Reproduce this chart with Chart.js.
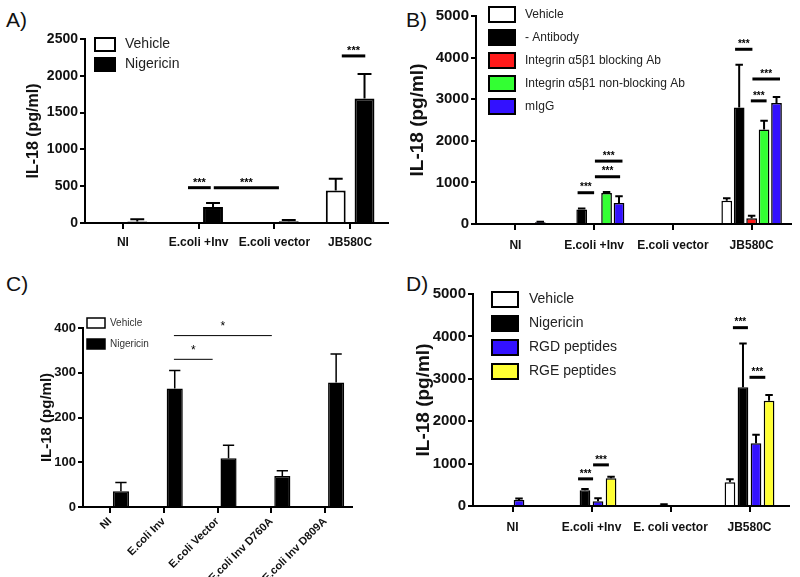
<!DOCTYPE html>
<html>
<head>
<meta charset="utf-8">
<script src="https://cdn.jsdelivr.net/npm/chart.js@4.4.0/dist/chart.umd.min.js"></script>
<style>
  body { margin: 0; background: #fff; width: 800px; height: 577px; position: relative; overflow: hidden; font-family: 'Liberation Sans', Arial, sans-serif; }
  .panel { position: absolute; }
  .tag { position: absolute; font-size: 21px; color: #111; line-height: 1; }
</style>
</head>
<body>
<div class="tag" style="left:6px;top:9px">A)</div>
<div class="tag" style="left:406px;top:9px">B)</div>
<div class="tag" style="left:6px;top:273px">C)</div>
<div class="tag" style="left:406px;top:273px">D)</div>

<div class="panel" style="left:0;top:0;width:400px;height:290px"><canvas id="chA"></canvas></div>
<div class="panel" style="left:400px;top:0;width:400px;height:290px"><canvas id="chB"></canvas></div>
<div class="panel" style="left:0;top:290px;width:400px;height:287px"><canvas id="chC"></canvas></div>
<div class="panel" style="left:400px;top:280px;width:400px;height:297px"><canvas id="chD"></canvas></div>

<script>
// --- données ---
const catsABD = ['NI', 'E.coli +Inv', 'E.coli vector', 'JB580C'];
const catsD   = ['NI', 'E.coli +Inv', 'E. coli vector', 'JB580C'];
const catsC   = ['NI', 'E.coli Inv', 'E.coli Vector', 'E.coli Inv D760A', 'E.coli Inv D809A'];

// A
const vehicleA    = [0, 0, 0, 440];
const vehicleErrA = [0, 0, 0, 600];
const nigA        = [20, 217, 25, 1690];
const nigErrA     = [50, 272, 40, 2025];
const sigA        = [[0.86, 1.16, 480, '***'], [1.2, 2.06, 480, '***'], [2.89, 3.2, 2270, '***']];

// B
const vehicleB     = [0, 0, 0, 560];
const vehicleErrB  = [0, 0, 0, 620];
const noAbB        = [0, 350, 0, 2800];
const noAbErrB     = [0, 370, 0, 3830];
const blockB       = [0, 0, 0, 140];
const blockErrB    = [0, 0, 0, 200];
const nonBlockB    = [0, 745, 0, 2270];
const nonBlockErrB = [0, 770, 0, 2480];
const migB         = [40, 505, 0, 2910];
const migErrB      = [55, 670, 0, 3050];
const sigB = [[0.79, 1.0, 752, '***'], [1.01, 1.33, 1136, '***'], [1.01, 1.36, 1512, '***'],
              [2.79, 3.01, 4200, '***'], [2.99, 3.19, 2960, '***'], [3.01, 3.36, 3486, '***']];

// C
const vehicleC    = [0, 0, 0, 0, 0];
const vehicleErrC = [0, 0, 0, 0, 0];
const nigC        = [35, 265, 109, 69, 278];
const nigErrC     = [55, 305, 138, 81, 342];
const sigC        = [[1.19, 1.91, 330, '*'], [1.19, 3.01, 383, '*']];

// D
const vehicleD = [0, 0, 0, 560];
const vehicleErrD = [0, 0, 0, 630];
const nigD     = [0, 370, 30, 2800];
const nigErrD  = [0, 400, 40, 3830];
const rgdD     = [140, 110, 0, 1480];
const rgdErrD  = [175, 180, 0, 1680];
const rgeD     = [0, 655, 0, 2480];
const rgeErrD  = [0, 690, 0, 2620];
const sigD = [[0.83, 1.02, 640, '***'], [1.02, 1.22, 970, '***'], [2.79, 2.98, 4206, '***'], [3.0, 3.2, 3035, '***']];

const FONT = "'Liberation Sans', Arial, sans-serif";

// ── plugins ─────────────────────────────────────────────
const errorBars = {
  id: 'errorBars',
  afterDatasetsDraw(chart, args, o) {
    const ctx = chart.ctx, ys = chart.scales.y;
    ctx.save();
    ctx.strokeStyle = '#000';
    ctx.lineWidth = o.lw;
    chart.data.datasets.forEach((ds, i) => {
      chart.getDatasetMeta(i).data.forEach((bar, j) => {
        const e = ds.errors[j];
        if (!e || e <= ds.data[j]) return;
        const top = ys.getPixelForValue(e);
        const cap = bar.width * o.cap / 2;
        ctx.beginPath();
        ctx.moveTo(bar.x, bar.y);
        ctx.lineTo(bar.x, top);
        ctx.moveTo(bar.x - cap, top);
        ctx.lineTo(bar.x + cap, top);
        ctx.stroke();
      });
    });
    ctx.restore();
  }
};

const sigBars = {
  id: 'sigBars',
  afterDatasetsDraw(chart, args, o) {
    const { ctx, scales: { x, y } } = chart;
    ctx.save();
    ctx.strokeStyle = '#000';
    ctx.fillStyle = '#000';
    ctx.lineWidth = o.lw;
    ctx.font = o.font;
    ctx.textAlign = 'center';
    ctx.textBaseline = 'middle';
    o.marks.forEach(([a, b, v, t]) => {
      const xa = x.getPixelForValue(a), xb = x.getPixelForValue(b), py = y.getPixelForValue(v);
      ctx.beginPath();
      ctx.moveTo(xa, py);
      ctx.lineTo(xb, py);
      ctx.stroke();
      ctx.fillText(t, (xa + xb) / 2, py - o.gap);
    });
    ctx.restore();
  }
};

const boxLegend = {
  id: 'boxLegend',
  afterDraw(chart, args, o) {
    const ctx = chart.ctx;
    ctx.save();
    ctx.font = o.font;
    ctx.textBaseline = 'middle';
    chart.data.datasets.forEach((ds, i) => {
      const y = o.y + i * o.pitch;
      ctx.fillStyle = ds.backgroundColor;
      ctx.fillRect(o.x, y, o.w, o.h);
      ctx.lineWidth = o.lw;
      ctx.strokeStyle = '#000';
      ctx.strokeRect(o.x, y, o.w, o.h);
      ctx.fillStyle = o.color;
      ctx.fillText(ds.label, o.textX, y + o.h / 2);
    });
    ctx.restore();
  }
};

// ── construction d'un panneau ───────────────────────────
function panel(id, o) {
  const axisGrid = { display: true, drawOnChartArea: false, drawTicks: true, tickLength: 5, color: '#000', lineWidth: 2 };
  return new Chart(document.getElementById(id), {
    type: 'bar',
    data: {
      labels: o.labels,
      datasets: o.series.map(s => ({
        label: s.name,
        data: s.data,
        errors: s.err,
        backgroundColor: s.color,
        borderColor: '#000',
        borderWidth: o.border,
        categoryPercentage: o.cat,
        barPercentage: o.bar,
      })),
    },
    options: {
      animation: false,
      responsive: true,
      maintainAspectRatio: false,
      layout: { padding: { left: o.padL, top: o.padT, right: o.padR, bottom: 0 } },
      plugins: {
        legend: { display: false },
        tooltip: { enabled: false },
        errorBars: { lw: o.errLw, cap: 0.7 },
        sigBars: { marks: o.sig, lw: o.sigLw, font: o.sigFont, gap: o.sigGap },
        boxLegend: o.legend,
      },
      scales: {
        x: {
          offset: true,
          grid: { ...axisGrid, offset: false, tickLength: 6 },
          border: { display: true, color: '#000', width: 2 },
          ticks: {
            color: '#111', padding: o.xPad, autoSkip: false,
            minRotation: o.rot, maxRotation: o.rot,
            font: { family: FONT, size: o.xFont, weight: 'bold' },
          },
          afterFit: s => { s.height = o.xh; },
        },
        y: {
          min: 0, max: o.max,
          grid: axisGrid,
          border: { display: true, color: '#000', width: 2 },
          ticks: {
            stepSize: o.step, color: '#111', padding: 2,
            callback: v => String(v),
            font: { family: FONT, size: o.yFont, weight: 'bold' },
          },
          title: { display: true, text: 'IL-18 (pg/ml)', color: '#111', padding: { top: 4, bottom: 4 }, font: { family: FONT, size: o.titleFont, weight: 'bold' } },
          afterFit: s => { s.width = o.yw; },
        },
      },
    },
    plugins: [errorBars, sigBars, boxLegend],
  });
}

panel('chA', {
  labels: catsABD,
  series: [
    { name: 'Vehicle',   data: vehicleA, err: vehicleErrA, color: '#ffffff' },
    { name: 'Nigericin', data: nigA,     err: nigErrA,     color: '#000000' },
  ],
  cat: 0.76, bar: 0.69, border: 2,
  padL: 20, yw: 65, padT: 39, padR: 12, xh: 67,
  max: 2500, step: 500, yFont: 14, xFont: 12, titleFont: 16, xPad: 6, rot: 0,
  errLw: 2, sig: sigA, sigLw: 3, sigFont: `bold 11px ${FONT}`, sigGap: 5,
  legend: { x: 95, y: 38, w: 20, h: 13, pitch: 20, lw: 2, textX: 125, font: `14px ${FONT}`, color: '#222' },
});

panel('chB', {
  labels: catsABD,
  series: [
    { name: 'Vehicle',                        data: vehicleB,  err: vehicleErrB,  color: '#ffffff' },
    { name: '- Antibody',                     data: noAbB,     err: noAbErrB,     color: '#000000' },
    { name: 'Integrin \u03b15\u03b21 blocking Ab',     data: blockB,    err: blockErrB,    color: '#ff1a1a' },
    { name: 'Integrin \u03b15\u03b21 non-blocking Ab', data: nonBlockB, err: nonBlockErrB, color: '#33ff33' },
    { name: 'mIgG',                           data: migB,      err: migErrB,      color: '#3311ff' },
  ],
  cat: 0.79, bar: 0.86, border: 1.5,
  padL: 2, yw: 74, padT: 16, padR: 9, xh: 66,
  max: 5000, step: 1000, yFont: 15, xFont: 12, titleFont: 19, xPad: 8, rot: 0,
  errLw: 2, sig: sigB, sigLw: 3, sigFont: `bold 10px ${FONT}`, sigGap: 5,
  legend: { x: 89, y: 7, w: 26, h: 15, pitch: 23, lw: 2, textX: 125, font: `12px ${FONT}`, color: '#222' },
});

panel('chC', {
  labels: catsC,
  series: [
    { name: 'Vehicle',   data: vehicleC, err: vehicleErrC, color: '#ffffff' },
    { name: 'Nigericin', data: nigC,     err: nigErrC,     color: '#000000' },
  ],
  cat: 0.82, bar: 0.73, border: 1.5,
  padL: 34, yw: 49, padT: 38, padR: 48, xh: 70,
  max: 400, step: 100, yFont: 13, xFont: 11, titleFont: 15, xPad: 2, rot: 45,
  errLw: 1.5, sig: sigC, sigLw: 1, sigFont: `12px ${FONT}`, sigGap: 9,
  legend: { x: 87, y: 28, w: 18, h: 10, pitch: 21, lw: 1.5, textX: 110, font: `10px ${FONT}`, color: '#333' },
});

panel('chD', {
  labels: catsD,
  series: [
    { name: 'Vehicle',      data: vehicleD, err: vehicleErrD, color: '#ffffff' },
    { name: 'Nigericin',    data: nigD,     err: nigErrD,     color: '#000000' },
    { name: 'RGD peptides', data: rgdD,     err: rgdErrD,     color: '#3311ff' },
    { name: 'RGE peptides', data: rgeD,     err: rgeErrD,     color: '#ffff33' },
  ],
  cat: 0.66, bar: 0.82, border: 1.5,
  padL: 8, yw: 65, padT: 14, padR: 11, xh: 71,
  max: 5000, step: 1000, yFont: 15, xFont: 12, titleFont: 19, xPad: 8, rot: 0,
  errLw: 2, sig: sigD, sigLw: 3, sigFont: `bold 10px ${FONT}`, sigGap: 5,
  legend: { x: 92, y: 12, w: 26, h: 15, pitch: 24, lw: 2, textX: 129, font: `14px ${FONT}`, color: '#222' },
});
</script>
</body>
</html>
